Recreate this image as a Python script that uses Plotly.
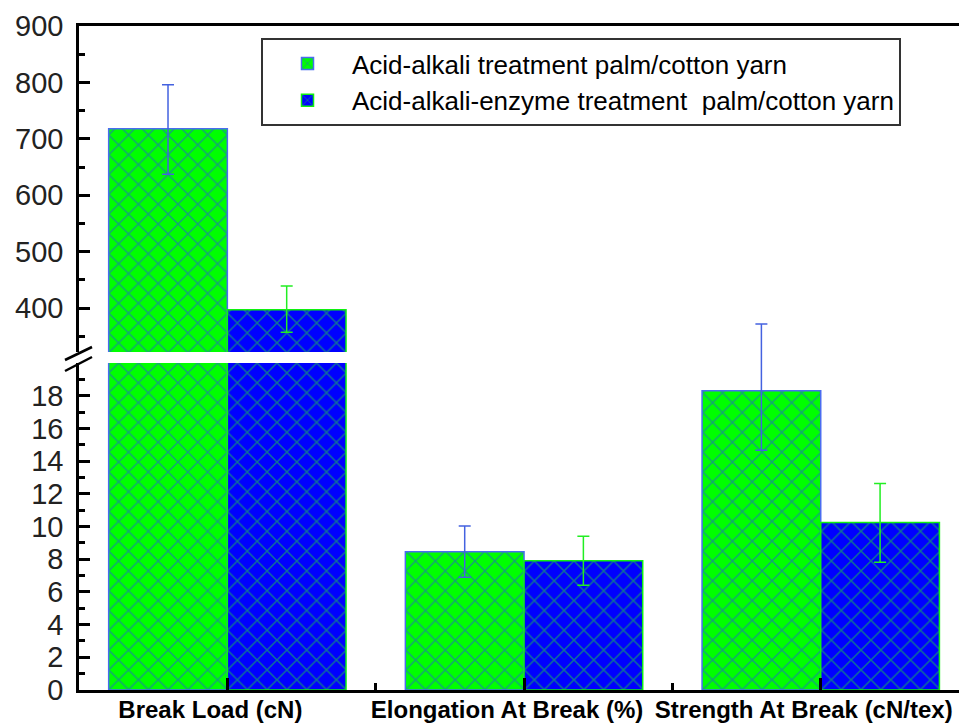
import plotly.graph_objects as go

# ---------------- data ----------------
categories = ["Break Load (cN)", "Elongation At Break (%)", "Strength At Break (cN/tex)"]
series_names = ["Acid-alkali treatment palm/cotton yarn",
                "Acid-alkali-enzyme treatment&nbsp; palm/cotton yarn"]
acid_alkali = [718, 8.45, 18.3]
acid_alkali_enzyme = [397, 7.9, 10.25]
acid_alkali_err_plus = [78, 1.58, 4.08]
acid_alkali_err_minus = [81, 1.56, 3.63]
enzyme_err_plus = [42, 1.51, 2.38]
enzyme_err_minus = [40, 1.49, 2.43]
panel = ["upper", "lower", "lower"]          # which side of the axis break holds each category
upper_ticks = [400, 500, 600, 700, 800, 900]
lower_ticks = [0, 2, 4, 6, 8, 10, 12, 14, 16, 18]
lower_range = [0, 20]
upper_range = [322, 900]

# ---------------- styles ----------------
GREEN = "#00ff00"
BLUE = "#0000ff"
GREEN_EDGE = "#4a6cf0"
BLUE_EDGE = "#10f010"
GREEN_PAT = "#2848f0"
BLUE_PAT = "#20e030"
FONT = "Arial, Liberation Sans, sans-serif"

L, W, H, T, B = 79, 959, 723, 26, 33
plot_h = H - T - B
lower_top = (H - B - 363) / plot_h
upper_bot = (H - B - 352) / plot_h

x = list(range(len(categories)))
styles = [
    dict(vals=acid_alkali, ep=acid_alkali_err_plus, em=acid_alkali_err_minus,
         fill=GREEN, edge=GREEN_EDGE, pat=GREEN_PAT, err="#4462e0", name=series_names[0], og="a"),
    dict(vals=acid_alkali_enzyme, ep=enzyme_err_plus, em=enzyme_err_minus,
         fill=BLUE, edge=BLUE_EDGE, pat=BLUE_PAT, err="#22ee22", name=series_names[1], og="b"),
]

fig = go.Figure()

# bars: same data on both sides of the break
for sub, (xa, ya) in {"lower": ("x", "y"), "upper": ("x2", "y2")}.items():
    for s in styles:
        fig.add_trace(go.Bar(
            x=x, y=s["vals"], xaxis=xa, yaxis=ya, name=s["name"], offsetgroup=s["og"],
            legendgroup=s["og"], showlegend=(sub == "upper"),
            marker=dict(color=s["fill"], line=dict(color=s["edge"], width=1.5),
                        pattern=dict(shape="x", fgcolor=s["pat"], bgcolor=s["fill"],
                                     size=14, solidity=0.2, fillmode="overlay")),
            hoverinfo="skip",
        ))

# error bars: upper panel on its own axis, lower panel on a full-height axis with the lower scale
for sub, (xa, ya) in {"upper": ("x2", "y2"), "lower": ("x3", "y3")}.items():
    for s in styles:
        ys = [v if p == sub else None for v, p in zip(s["vals"], panel)]
        fig.add_trace(go.Scatter(
            x=x, y=ys, xaxis=xa, yaxis=ya, mode="markers", offsetgroup=s["og"],
            marker=dict(opacity=0, size=1), showlegend=False,
            hoverinfo="skip",
            error_y=dict(type="data", symmetric=False, array=s["ep"], arrayminus=s["em"],
                         color=s["err"], thickness=1.5, width=6),
        ))

axis_common = dict(showline=True, linecolor="black", linewidth=2.5, ticks="inside",
                   tickcolor="black", tickwidth=2.5, ticklen=11,
                   tickfont=dict(family=FONT, size=29, color="#222222"),
                   showgrid=False, zeroline=False, ticklabelstandoff=7, automargin=False)

xrange = [-0.5, 2.466]
fig.update_layout(
    template="none",
    width=W, height=H,
    margin=dict(l=L, r=0, t=T, b=B, autoexpand=False),
    paper_bgcolor="white", plot_bgcolor="rgba(0,0,0,0)",
    barmode="group", bargap=0.2, bargroupgap=0,
    scattermode="group", scattergap=0.2,
    xaxis=dict(domain=[0, 1], anchor="y", range=xrange,
               tickmode="array", tickvals=x, ticktext=categories,
               showline=True, linecolor="black", linewidth=2.5,
               ticks="inside", ticklen=12, tickwidth=2.5, tickcolor="black",
               tickfont=dict(family=FONT, size=24, color="black", weight="bold"),
               ticklabelshift=-17, ticklabelstandoff=-4, automargin=False,
               minor=dict(tickvals=[0.5, 1.5], ticks="inside", ticklen=7,
                          tickwidth=2.5, tickcolor="black"),
               showgrid=False, zeroline=False),
    xaxis2=dict(domain=[0, 1], anchor="y2", matches="x", side="top",
                showline=True, linecolor="black", linewidth=2.5, automargin=False,
                ticks="", showticklabels=False, showgrid=False, zeroline=False),
    xaxis3=dict(domain=[0, 1], anchor="y3", matches="x", visible=False),
    yaxis=dict(domain=[0, lower_top], anchor="x", range=lower_range,
               tickmode="array", tickvals=lower_ticks,
               minor=dict(dtick=1, tick0=0, ticks="inside", ticklen=6,
                          tickwidth=2.5, tickcolor="black"),
               **axis_common),
    yaxis2=dict(domain=[upper_bot, 1], anchor="x2", range=upper_range,
                tickmode="array", tickvals=upper_ticks,
                minor=dict(dtick=50, tick0=0, ticks="inside", ticklen=6,
                           tickwidth=2.5, tickcolor="black"),
                **axis_common),
    # same units-per-pixel as the lower axis, stretched over the whole plot height
    yaxis3=dict(domain=[0, 1], anchor="x3", visible=False,
                range=[lower_range[0], lower_range[1] / lower_top]),
    legend=dict(x=(261 - L) / (W - L), xanchor="left",
                y=(H - B - 38) / plot_h, yanchor="top",
                bgcolor="white", bordercolor="#333333", borderwidth=2,
                font=dict(family=FONT, size=26, color="black"),
                itemwidth=79, tracegroupgap=0, traceorder="normal"),
    showlegend=True,
)

# axis-break marks
def px2paper_x(px):
    return (px - L) / (W - L)

def px2paper_y(py):
    return (H - B - py) / plot_h

for y0, y1 in [(360, 347), (371, 357)]:
    fig.add_shape(type="line", xref="paper", yref="paper",
                  x0=px2paper_x(65), x1=px2paper_x(92),
                  y0=px2paper_y(y0), y1=px2paper_y(y1),
                  line=dict(color="black", width=2.5))

fig.write_html("out.html", config={"displayModeBar": False},
               post_script="document.body.style.margin='0';")
